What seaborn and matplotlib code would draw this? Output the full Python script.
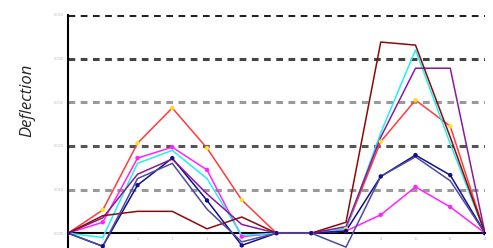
import numpy as np
import pandas as pd
import matplotlib
matplotlib.use("Agg")
import matplotlib.pyplot as plt
import seaborn as sns

# stations along the beam and deflection per load case (units of 0.01)
stations = list(range(13))
red = [0, 0.53, 2.06, 2.87, 1.95, 0.76, 0, 0, 0.1, 2.1, 3.05, 2.45, 0]
magenta = [0, 0.25, 1.72, 1.97, 1.45, -0.08, 0, 0, 0.05, 0.42, 1.06, 0.6, 0]
cyan = [0, -0.1, 1.6, 1.9, 1.25, -0.05, 0, 0, 0.1, 2.3, 4.2, 2.05, 0]
navy = [0, -0.3, 1.1, 1.72, 0.75, -0.28, 0, 0, 0.05, 1.3, 1.79, 1.33, 0]
purple = [0, 0.35, 1.35, 1.7, 0.9, 0.2, 0, 0, 0.15, 2.2, 3.78, 3.78, 0]
maroon = [0, 0.4, 0.5, 0.5, 0.1, 0.37, 0, 0, 0.25, 4.38, 4.31, 2.2, 0]
slate = [0, -0.3, 1.25, 1.6, 0.55, -0.2, 0, 0, -0.32, 1.3, 1.75, 1.2, 0]

y_ticks = [0, 1, 2, 3, 4, 5]
y_labels = ["0.000", "0.010", "0.020", "0.030", "0.040", "0.050"]
x_labels = ["0", "1", "2", "3", "4", "5", "6", "7", "8", "9", "10", "11", "12"]

series = {"red": red, "magenta": magenta, "cyan": cyan, "navy": navy,
          "purple": purple, "maroon": maroon, "slate": slate}
palette = {"red": "#ff3b3b", "magenta": "#ff22ff", "cyan": "#22f0f0", "navy": "#10108a",
           "purple": "#8a1a9a", "maroon": "#8a0a0a", "slate": "#4a4aa8"}

df = pd.concat([pd.DataFrame({"x": stations, "y": v, "case": k}) for k, v in series.items()])

sns.set_style("white")
fig = plt.figure(figsize=(4.93, 2.48), dpi=100)
ax = fig.add_axes([68 / 493, 0, (485 - 68) / 493, (248 - 15) / 248])

# zero line as the bottom spine (set before the ticks, it resets them)
ax.spines["bottom"].set_position(("data", 0))
for s in ["top", "right"]:
    ax.spines[s].set_visible(False)
ax.spines["bottom"].set_color("k")
ax.spines["bottom"].set_linewidth(1.5)
ax.spines["left"].set_color("k")
ax.spines["left"].set_linewidth(1.5)

# gridlines (ticks 1..5), drawn first so lines sit on top
grid_cols = ["#999999", "#555555", "#999999", "#444444", "#222222"]
for t, c in zip(y_ticks[1:], grid_cols):
    ax.axhline(t, color=c, lw=2.2, ls=(0, (2.2, 1.8)), zorder=0)

sns.lineplot(data=df, x="x", y="y", hue="case", palette=palette, legend=False,
             lw=1.1, ax=ax, zorder=3)
mk = df[df["case"].isin(["red", "navy", "magenta"])]
sns.scatterplot(data=mk, x="x", y="y", hue="case",
                palette={"red": "#ffe020", "navy": "#10108a", "magenta": "#ff22ff"},
                legend=False, s=10, edgecolor="none", ax=ax, zorder=4)

ax.set_xlim(0, 12)
ax.set_ylim(-0.34, 5.0)
ax.set_xticks(stations)
ax.set_xticklabels(x_labels, fontsize=2.5, color="#bbbbbb")
ax.set_yticks(y_ticks)
ax.set_yticklabels(y_labels, fontsize=2.5, color="#bbbbbb")
ax.tick_params(axis="both", length=2, width=0.8, pad=1, color="#444444")
ax.set_xlabel("")
ax.set_ylabel("")
fig.text(27 / 493, 1 - 100 / 248, "Deflection", rotation=90, fontsize=12,
         style="italic", family="Open Sans", ha="center", va="center")

fig.savefig("out.png", dpi=100)
